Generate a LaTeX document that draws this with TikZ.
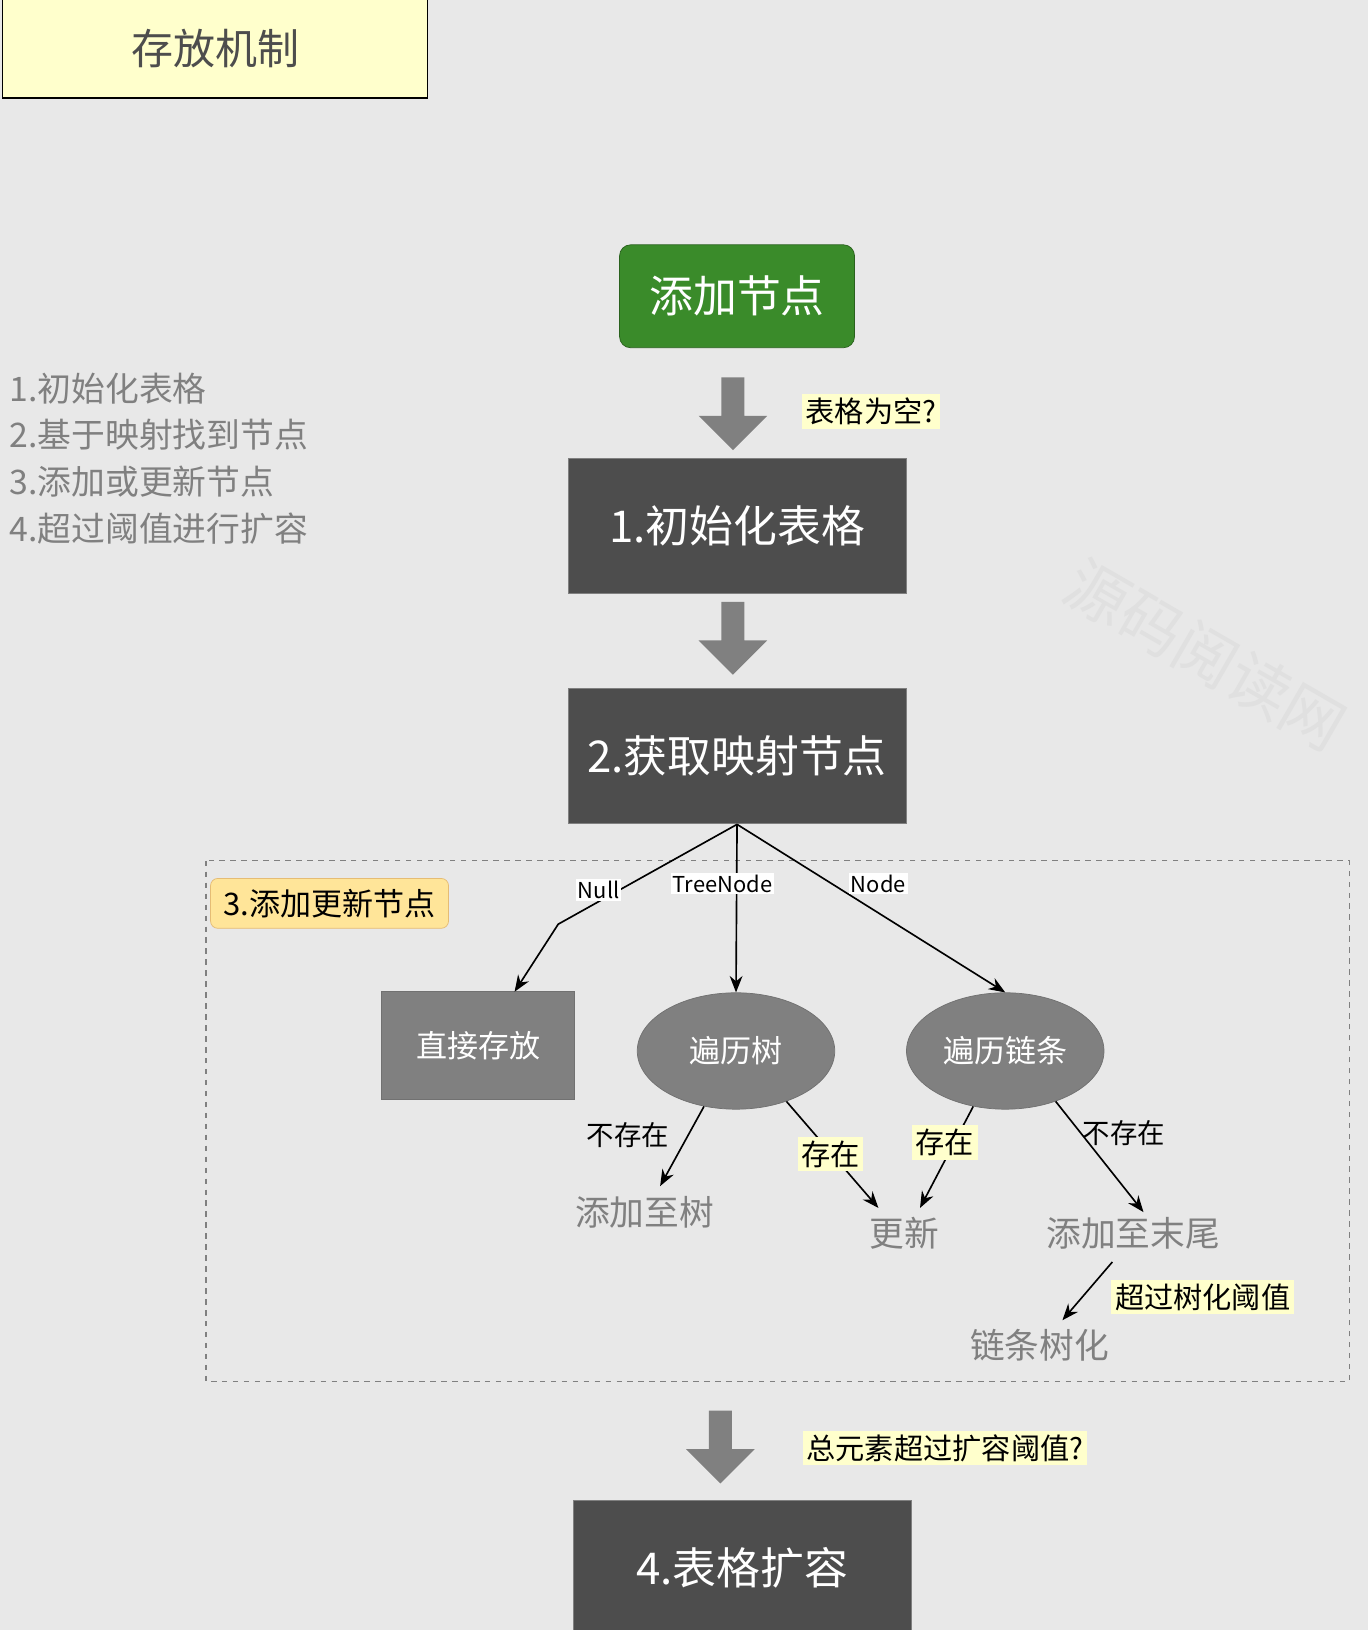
\documentclass[tikz,border=0pt]{standalone}
\usepackage{fontspec}
\setmainfont{Noto Sans CJK SC}
\usetikzlibrary{shapes.geometric,arrows.meta}
\definecolor{bg}{HTML}{E8E8E8}
\definecolor{dark}{HTML}{4D4D4D}
\definecolor{mid}{HTML}{808080}
\definecolor{note}{HTML}{FFFFCC}
\definecolor{start}{HTML}{3A8B2A}
\definecolor{sect}{HTML}{FFE599}
\tikzset{darkbox/.style={draw=mid,fill=dark,text=white,minimum width=6.5cm,minimum height=2.6cm,font=\fontsize{24}{28}\selectfont}}
\tikzset{graybox/.style={draw=dark!80,fill=mid,text=white,font=\fontsize{17}{20}\selectfont}}
\tikzset{note/.style={fill=note,inner sep=2pt,font=\fontsize{16}{19}\selectfont}}
\tikzset{plain/.style={text=mid,font=\fontsize{19}{22}\selectfont}}
\tikzset{lab/.style={font=\fontsize{15}{18}\selectfont}}
\tikzset{elab/.style={fill=white,inner sep=1pt,font=\fontsize{12}{14}\selectfont}}
\tikzset{link/.style={-{Stealth[length=9pt,width=7pt]},line width=0.9pt}}
\tikzset{bigdown/.pic={\fill[mid] (-11,0) -- (11,0) -- (11,37) -- (33,37) -- (0,70) -- (-33,37) -- (-11,37) -- cycle;}}
\begin{document}
\begin{tikzpicture}[x=0.02cm,y=-0.02cm]
    \fill[bg] (0,0) rectangle (1316,1568);
    \useasboundingbox (0,0) rectangle (1316,1568);

    \node[rotate=-30,text=black!12,font=\fontsize{34}{40}\selectfont] (mark) at (1160,630) {源码阅读网};

    \node[draw=black,thick,fill=note,minimum width=8.18cm,minimum height=1.9cm,text=dark,font=\fontsize{23}{27}\selectfont] (title) at (207,47) {存放机制};

    \node[anchor=west,text=mid,align=left,font=\fontsize{18.5}{25.5}\selectfont] (list) at (3,441) {1.初始化表格\\2.基于映射找到节点\\3.添加或更新节点\\4.超过阈值进行扩容};

    \node[draw=start!70!black,fill=start,rounded corners=6pt,text=white,minimum width=4.52cm,minimum height=1.98cm,font=\fontsize{24}{28}\selectfont] (add) at (709,285) {添加节点};
    \pic at (705,363) {bigdown};
    \node[note] (empty) at (838,396) {表格为空?};
    \node[darkbox] (init) at (709,506) {1.初始化表格};
    \pic at (705,579) {bigdown};
    \node[darkbox] (get) at (709,727) {2.获取映射节点};

    \draw[dashed,draw=mid,thick] (198,828) rectangle (1298,1329);
    \node[draw=sect!60!brown,fill=sect,rounded corners=4pt,minimum width=4.58cm,minimum height=0.96cm,font=\fontsize{17}{20}\selectfont] (sec) at (317,869) {3.添加更新节点};

    \node[graybox,minimum width=3.72cm,minimum height=2.08cm] (direct) at (460,1006) {直接存放};
    \node[graybox,ellipse,minimum width=3.8cm,minimum height=2.24cm] (tree) at (708,1011) {遍历树};
    \node[graybox,ellipse,minimum width=3.8cm,minimum height=2.24cm] (list2) at (967,1011) {遍历链条};

    \coordinate (top) at (709,793);
    \coordinate (bend) at (537,889);
    \coordinate (dtop) at (495,954);
    \draw[link] (top) -- (bend) -- (dtop);
    \draw[link] (top) -- (tree.north);
    \draw[link] (top) -- (list2.north);
    \node[elab] (null) at (576,856) {Null};
    \node[elab] (tn) at (695,850) {TreeNode};
    \node[elab] (nd) at (845,850) {Node};

    \node[plain] (totree) at (620,1166) {添加至树};
    \node[plain] (upd) at (870,1186) {更新};
    \node[plain] (totail) at (1090,1186) {添加至末尾};
    \node[plain] (treeify) at (1000,1294) {链条树化};

    \coordinate (t1) at (635,1141);
    \coordinate (u1) at (845,1162);
    \coordinate (u2) at (885,1162);
    \coordinate (e1) at (1100,1166);
    \coordinate (s1) at (1070,1214);
    \coordinate (r1) at (1022,1270);
    \draw[link] (tree.-120) -- (t1);
    \draw[link] (tree.-45) -- (u1);
    \draw[link] (list2.-120) -- (u2);
    \draw[link] (list2.-45) -- (e1);
    \draw[link] (s1) -- (r1);
    \node[lab] (l1) at (604,1092) {不存在};
    \node[note] (l2) at (799,1110) {存在};
    \node[note] (l3) at (909,1099) {存在};
    \node[lab] (l4) at (1081,1090) {不存在};
    \node[note] (l5) at (1157,1248) {超过树化阈值};

    \pic at (693,1357) {bigdown};
    \node[note] (over) at (909,1393) {总元素超过扩容阈值?};
    \node[darkbox,anchor=north] (grow) at (714,1443) {4.表格扩容};
\end{tikzpicture}
\end{document}
